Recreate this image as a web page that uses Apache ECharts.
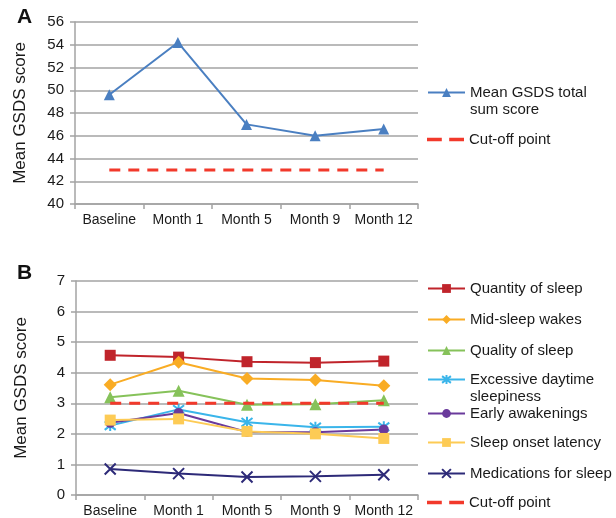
<!DOCTYPE html>
<html>
<head>
<meta charset="utf-8">
<script src="https://cdn.jsdelivr.net/npm/echarts@6/dist/echarts.min.js"></script>
<style>
  html, body { margin: 0; padding: 0; background: #fff; }
  #chart { width: 616px; height: 518px; }
</style>
</head>
<body>
<div id="chart"></div>
<script>
// Time points shared by both panels
const visits = ['Baseline', 'Month 1', 'Month 5', 'Month 9', 'Month 12'];

// Panel A: total score
const totalScore = [49.6, 54.2, 47.0, 46.0, 46.6];
const totalCutoff = [43, 43, 43, 43, 43];

// Panel B: subscale scores
const quantityOfSleep = [4.57, 4.51, 4.36, 4.33, 4.38];
const midSleepWakes = [3.61, 4.34, 3.81, 3.76, 3.57];
const qualityOfSleep = [3.2, 3.41, 2.95, 2.97, 3.1];
const daytimeSleepiness = [2.27, 2.8, 2.38, 2.22, 2.23];
const earlyAwakenings = [2.36, 2.68, 2.06, 2.05, 2.14];
const sleepOnsetLatency = [2.45, 2.49, 2.08, 2.0, 1.85];
const sleepMedications = [0.85, 0.7, 0.59, 0.61, 0.66];
const subscaleCutoff = [3, 3, 3, 3, 3];

const FONT = '"Liberation Sans", Arial, Helvetica, sans-serif';
const GRID_COLOR = '#a3a3a3';
const CUTOFF_RED = '#f2392b';

const asteriskPath = 'path://M0,0 L10,10 M10,0 L0,10 M5,-1.5 L5,11.5';
const crossPath = 'path://M0,0 L10,10 M10,0 L0,10';
// two short dashes used as the legend key of the cut-off lines
const dashKeyPath = 'path://M0,0 H12 V3 H0 Z M18,0 H30 V3 H18 Z';

function xAxisFor(gridIndex) {
  return {
    type: 'category', gridIndex, data: visits, boundaryGap: true,
    axisLine: { lineStyle: { color: GRID_COLOR, width: 1.5 } },
    axisTick: { show: true, length: 5, lineStyle: { color: GRID_COLOR, width: 1.5 } },
    axisLabel: { interval: 0, color: '#1a1a1a', fontFamily: FONT, fontSize: 14, margin: 9 }
  };
}
function yAxisFor(gridIndex, min, max, interval) {
  return {
    type: 'value', gridIndex, min, max, interval,
    name: 'Mean GSDS score', nameLocation: 'middle', nameRotate: 90, nameGap: 46,
    nameTextStyle: { color: '#1a1a1a', fontFamily: FONT, fontSize: 17 },
    axisLine: { show: true, lineStyle: { color: GRID_COLOR, width: 1.5 } },
    axisTick: { show: true, length: 5, lineStyle: { color: GRID_COLOR, width: 1.5 } },
    axisLabel: { color: '#1a1a1a', fontFamily: FONT, fontSize: 15, margin: 11 },
    splitLine: { lineStyle: { color: GRID_COLOR, width: 1.5 } }
  };
}

function lineSeries(name, data, color, symbol, size, axisIdx, extra) {
  return Object.assign({
    name, type: 'line', data, xAxisIndex: axisIdx, yAxisIndex: axisIdx,
    symbol, symbolSize: size, showAllSymbol: true,
    lineStyle: { color, width: 2 },
    itemStyle: { color, borderColor: color, borderWidth: 0 },
    emphasis: { disabled: true }, z: 3, animation: false
  }, extra || {});
}
function cutoffSeries(name, data, axisIdx) {
  return {
    name, type: 'line', data, xAxisIndex: axisIdx, yAxisIndex: axisIdx,
    symbol: 'none',
    lineStyle: { color: CUTOFF_RED, width: 3, type: [11, 8] },
    itemStyle: { color: CUTOFF_RED },
    emphasis: { disabled: true }, z: 4, animation: false
  };
}
const strokeMarker = (color) => ({ itemStyle: { color, borderColor: color, borderWidth: 2 } });

const seriesColors = {
  quantity: '#c0242b', mid: '#f9ac24', quality: '#86c25a', daytime: '#3ab5ea',
  early: '#6a3a9c', onset: '#fdcb55', meds: '#2d2a78', total: '#4a7fc1'
};

const legendText = { color: '#1a1a1a', fontFamily: FONT, fontSize: 15, lineHeight: 17 };
function legendAt(name, centerY, opts) {
  const item = Object.assign({ name }, (opts && opts.item) || {});
  const wrapped = opts && opts.wrap;
  return {
    data: [item], orient: 'vertical', left: 427,
    top: centerY - (wrapped ? 24 : 7), padding: 0,
    itemWidth: 37, itemHeight: 11, itemGap: 0, textStyle: legendText,
    formatter: wrapped ? () => '\n' + wrapped : undefined,
    selectedMode: false
  };
}
const dashKey = { item: { icon: dashKeyPath, itemStyle: { color: CUTOFF_RED } } };

const option = {
  backgroundColor: '#ffffff',
  animation: false,
  title: [
    { text: 'A', left: 12, top: 2, textStyle: { fontFamily: FONT, fontSize: 21, fontWeight: 'bold', color: '#111' } },
    { text: 'B', left: 12, top: 258, textStyle: { fontFamily: FONT, fontSize: 21, fontWeight: 'bold', color: '#111' } }
  ],
  grid: [
    { left: 75, width: 343, top: 22, height: 182 },
    { left: 76, width: 342, top: 281, height: 216 }
  ],
  xAxis: [xAxisFor(0), xAxisFor(1)],
  yAxis: [yAxisFor(0, 40, 56, 2), yAxisFor(1, 0, 7, 1)],
  legend: [
    legendAt('Mean GSDS total sum score', 91, { wrap: 'Mean GSDS total\nsum score' }),
    legendAt('Cut-off point', 138, dashKey),
    legendAt('Quantity of sleep', 287),
    legendAt('Mid-sleep wakes', 318),
    legendAt('Quality of sleep', 349),
    legendAt('Excessive daytime sleepiness', 378, { wrap: 'Excessive daytime\nsleepiness' }),
    legendAt('Early awakenings', 412),
    legendAt('Sleep onset latency', 441),
    legendAt('Medications for sleep', 472),
    legendAt('Cut-off point ', 501, dashKey)
  ],
  series: [
    lineSeries('Mean GSDS total sum score', totalScore, seriesColors.total, 'triangle', 11, 0),
    cutoffSeries('Cut-off point', totalCutoff, 0),
    lineSeries('Quantity of sleep', quantityOfSleep, seriesColors.quantity, 'rect', 11, 1),
    lineSeries('Mid-sleep wakes', midSleepWakes, seriesColors.mid, 'diamond', 13, 1),
    lineSeries('Quality of sleep', qualityOfSleep, seriesColors.quality, 'triangle', 12, 1),
    lineSeries('Excessive daytime sleepiness', daytimeSleepiness, seriesColors.daytime, asteriskPath, 11, 1, strokeMarker(seriesColors.daytime)),
    lineSeries('Early awakenings', earlyAwakenings, seriesColors.early, 'circle', 10, 1),
    lineSeries('Sleep onset latency', sleepOnsetLatency, seriesColors.onset, 'rect', 11, 1),
    lineSeries('Medications for sleep', sleepMedications, seriesColors.meds, crossPath, 11, 1, strokeMarker(seriesColors.meds)),
    cutoffSeries('Cut-off point ', subscaleCutoff, 1)
  ]
};

const chart = echarts.init(document.getElementById('chart'), null, { renderer: 'canvas' });
chart.setOption(option);
</script>
</body>
</html>
